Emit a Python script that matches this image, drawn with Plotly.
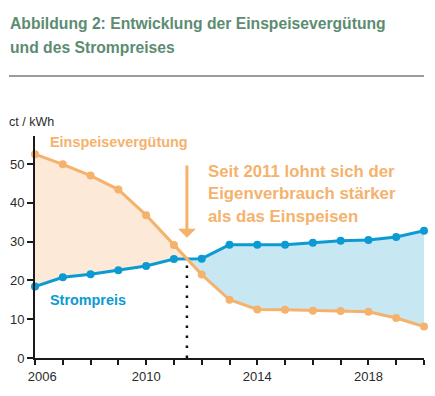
import plotly.graph_objects as go

years = list(range(2006, 2021))
einspeise = [52.5, 49.9, 47.0, 43.4, 36.8, 29.1, 21.5, 15.0, 12.5, 12.4, 12.2, 12.1, 11.9, 10.3, 8.1]
strompreis = [18.4, 20.8, 21.6, 22.6, 23.7, 25.5, 25.6, 29.2, 29.2, 29.2, 29.7, 30.2, 30.4, 31.2, 32.8]
x_tick_vals = [2006, 2010, 2014, 2018]
x_tick_text = ["\u2007\u20072006", "2010", "2014", "2018"]
y_tick_vals = [0, 10, 20, 30, 40, 50]

title_lines = ["Abbildung 2: Entwicklung der Einspeisevergütung", "und des Strompreises"]
note_lines = ["Seit 2011 lohnt sich der", "Eigenverbrauch stärker", "als das Einspeisen"]

ORANGE = "#F5B26D"
BLUE = "#0C9AD2"
PEACH = "#FDE9D8"
LBLUE = "#C7E7F3"
GREEN = "#5D8C72"
TXT = "#2B2B2B"
FONT = "Liberation Sans, Arial, Helvetica, sans-serif"

# crossover point computed from data
xc, yc, ci = None, None, None
for i in range(len(years) - 1):
    d0 = einspeise[i] - strompreis[i]
    d1 = einspeise[i + 1] - strompreis[i + 1]
    if d0 > 0 and d1 <= 0:
        t = d0 / (d0 - d1)
        xc = years[i] + t * (years[i + 1] - years[i])
        yc = einspeise[i] + t * (einspeise[i + 1] - einspeise[i])
        ci = i
        break

fig = go.Figure()

xa = years[:ci + 1] + [xc]
fig.add_trace(go.Scatter(
    x=xa + xa[::-1],
    y=einspeise[:ci + 1] + [yc] + (strompreis[:ci + 1] + [yc])[::-1],
    fill="toself", fillcolor=PEACH, line=dict(width=0), mode="lines",
    hoverinfo="skip", showlegend=False))
xb = [xc] + years[ci + 1:]
fig.add_trace(go.Scatter(
    x=xb + xb[::-1],
    y=[yc] + strompreis[ci + 1:] + ([yc] + einspeise[ci + 1:])[::-1],
    fill="toself", fillcolor=LBLUE, line=dict(width=0), mode="lines",
    hoverinfo="skip", showlegend=False))

fig.add_trace(go.Scatter(
    x=years, y=strompreis, mode="lines+markers",
    line=dict(color=BLUE, width=3), marker=dict(color=BLUE, size=8),
    cliponaxis=False, showlegend=False))
fig.add_trace(go.Scatter(
    x=years, y=einspeise, mode="lines+markers",
    line=dict(color=ORANGE, width=3), marker=dict(color=ORANGE, size=8),
    cliponaxis=False, showlegend=False))

fig.add_shape(type="line", xref="x", yref="y", x0=xc, x1=xc, y0=0, y1=yc,
              line=dict(color="#111111", width=2.5, dash="2.5px,7.5px"), layer="below")

FW, FH = 435, 396
L, R, T, B = 35, 11, 136, 38
W, H = FW - L - R, FH - T - B
def px(x):
    return (x - L) / W
def py(y):
    return (FH - B - y) / H

fig.add_shape(type="line", xref="paper", yref="paper", x0=px(9), x1=px(424),
              y0=py(76), y1=py(76), line=dict(color="#7A7A7A", width=1.5))

annotations = []
for txt, yy in zip(title_lines, [23.5, 47.5]):
    annotations.append(dict(text=f"<b>{txt}</b>", xref="paper", yref="paper",
                            x=px(8), y=py(yy), xanchor="left", yanchor="middle",
                            showarrow=False, font=dict(size=15.7, color=GREEN, family=FONT)))
annotations.append(dict(text="ct / kWh", xref="paper", yref="paper", x=px(7), y=py(122),
                        xanchor="left", yanchor="middle", showarrow=False,
                        font=dict(size=12.5, color=TXT, family=FONT)))
annotations.append(dict(text="<b>Einspeisevergütung</b>", xref="paper", yref="paper",
                        x=px(48), y=py(141.5), xanchor="left", yanchor="middle", showarrow=False,
                        font=dict(size=14.4, color=ORANGE, family=FONT)))
annotations.append(dict(text="<b>Strompreis</b>", xref="paper", yref="paper",
                        x=px(48), y=py(300), xanchor="left", yanchor="middle", showarrow=False,
                        font=dict(size=14.4, color=BLUE, family=FONT)))
for txt, yy in zip(note_lines, [171, 193, 216]):
    annotations.append(dict(text=f"<b>{txt}</b>", xref="paper", yref="paper",
                            x=px(205.5), y=py(yy), xanchor="left", yanchor="middle",
                            showarrow=False, font=dict(size=16.8, color=ORANGE, family=FONT)))
annotations.append(dict(text="", x=xc, y=31, ax=xc, ay=50, xref="x", yref="y",
                        axref="x", ayref="y", showarrow=True, arrowhead=1, arrowsize=1,
                        arrowwidth=3, arrowcolor=ORANGE))

fig.update_layout(
    width=FW, height=FH,
    margin=dict(l=L, r=R, t=T, b=B),
    paper_bgcolor="white", plot_bgcolor="white",
    font=dict(family=FONT, size=12, color=TXT),
    annotations=annotations,
    xaxis=dict(range=[2006, 2020], showgrid=False, zeroline=False, showline=True,
               linecolor="#1A1A1A", linewidth=2, ticks="outside", ticklen=5, tickwidth=2,
               tickcolor="#1A1A1A", tickvals=years,
               ticktext=[x_tick_text[x_tick_vals.index(y)] if y in x_tick_vals else "" for y in years],
               tickfont=dict(size=13, color=TXT), automargin=False),
    yaxis=dict(range=[0, 57.2], showgrid=False, zeroline=False, showline=True,
               linecolor="#1A1A1A", linewidth=2, ticks="outside", ticklen=6, tickwidth=2,
               tickcolor="#1A1A1A", tickvals=y_tick_vals, tickfont=dict(size=13, color=TXT),
               automargin=False),
)

fig.write_html("out.html", config={"displayModeBar": False},
               post_script="document.body.style.margin='0';document.body.style.overflow='hidden';")
